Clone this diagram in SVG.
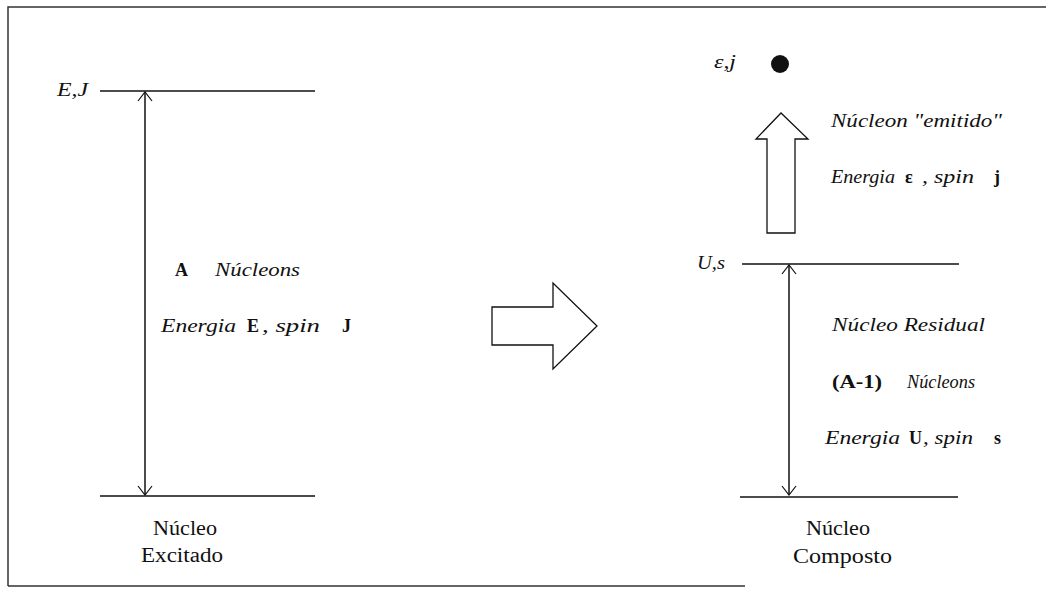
<svg xmlns="http://www.w3.org/2000/svg" width="1046" height="595" viewBox="0 0 1046 595">
<style>
.t{font-family:"Liberation Serif","DejaVu Serif",serif;font-size:18px;fill:#111}
.n{font-size:20px}
.i{font-style:italic}
.b{font-weight:bold}
.lvl{stroke:#111;stroke-width:1.5;fill:none}
.frame{stroke:#333;stroke-width:1.5;fill:none}
.big{stroke:#111;stroke-width:1.3;fill:#fff}
</style>
<defs>
<marker id="open" viewBox="-10 -8 12 16" markerWidth="12" markerHeight="16" refX="0" refY="0" orient="auto-start-reverse" markerUnits="userSpaceOnUse">
<path d="M-9,-7 L0,0 L-9,7" fill="none" stroke="#111" stroke-width="1.2"/>
</marker>
</defs>
<g id="frame">
<path class="frame" d="M8,586 L8,7 L1046,7"/>
<path class="frame" d="M8,586 L745,586"/>
</g>
<g id="connectors">
<line x1="145" y1="92" x2="145" y2="495" stroke="#111" stroke-width="1.5" marker-start="url(#open)" marker-end="url(#open)"/>
<line x1="789" y1="265" x2="789" y2="495" stroke="#111" stroke-width="1.5" marker-start="url(#open)" marker-end="url(#open)"/>
<polygon id="arrow-right" class="big" points="492,307 553,307 553,283 597,326 553,369 553,345 492,345"/>
<polygon id="arrow-up" class="big" points="767,233 767,139 756,139 781,113 808,139 795,139 795,233"/>
</g>
<g id="level-EJ">
<line class="lvl" x1="100" y1="91" x2="315" y2="91"/>
<text class="t i" x="57" y="96" textLength="31" lengthAdjust="spacingAndGlyphs">E,J</text>
</g>
<g id="level-left-bottom">
<line class="lvl" x1="100" y1="496" x2="315" y2="496"/>
</g>
<g id="label-left">
<text class="t b" x="175" y="276">A</text>
<text class="t i" x="215" y="276" textLength="85" lengthAdjust="spacingAndGlyphs">Núcleons</text>
<text class="t i" x="161" y="332" textLength="75" lengthAdjust="spacingAndGlyphs">Energia</text>
<text class="t b" x="247" y="332">E</text>
<text class="t i" x="262" y="332" textLength="58" lengthAdjust="spacingAndGlyphs">, spin</text>
<text class="t b" x="342" y="332">J</text>
</g>
<g id="node-excitado">
<text class="t n" x="153" y="535" textLength="64" lengthAdjust="spacingAndGlyphs">Núcleo</text>
<text class="t n" x="141" y="562" textLength="82" lengthAdjust="spacingAndGlyphs">Excitado</text>
</g>
<g id="particle">
<text class="t i" x="714" y="68" textLength="22" lengthAdjust="spacingAndGlyphs">ε,j</text>
<circle cx="780" cy="64" r="9" fill="#111"/>
</g>
<g id="label-emitted">
<text class="t i" x="831" y="127" textLength="171" lengthAdjust="spacingAndGlyphs">Núcleon "emitido"</text>
<text class="t i" x="831" y="183" textLength="64" lengthAdjust="spacingAndGlyphs">Energia</text>
<text class="t b" x="905" y="183">ε</text>
<text class="t i" x="922" y="183" textLength="52" lengthAdjust="spacingAndGlyphs">, spin</text>
<text class="t b" x="994" y="183">j</text>
</g>
<g id="level-Us">
<line class="lvl" x1="742" y1="264" x2="959" y2="264"/>
<text class="t i" x="697" y="269" textLength="28" lengthAdjust="spacingAndGlyphs">U,s</text>
</g>
<g id="level-right-bottom">
<line class="lvl" x1="740" y1="497" x2="958" y2="497"/>
</g>
<g id="label-residual">
<text class="t i" x="832" y="331" textLength="153" lengthAdjust="spacingAndGlyphs">Núcleo Residual</text>
<text class="t b" x="832" y="388" textLength="50" lengthAdjust="spacingAndGlyphs">(A-1)</text>
<text class="t i" x="907" y="388" textLength="68" lengthAdjust="spacingAndGlyphs">Núcleons</text>
<text class="t i" x="825" y="444" textLength="75" lengthAdjust="spacingAndGlyphs">Energia</text>
<text class="t b" x="909" y="444">U</text>
<text class="t i" x="923" y="444" textLength="50" lengthAdjust="spacingAndGlyphs">, spin</text>
<text class="t b" x="994" y="444">s</text>
</g>
<g id="node-composto">
<text class="t n" x="806" y="535" textLength="64" lengthAdjust="spacingAndGlyphs">Núcleo</text>
<text class="t n" x="793" y="563" textLength="99" lengthAdjust="spacingAndGlyphs">Composto</text>
</g>
</svg>
